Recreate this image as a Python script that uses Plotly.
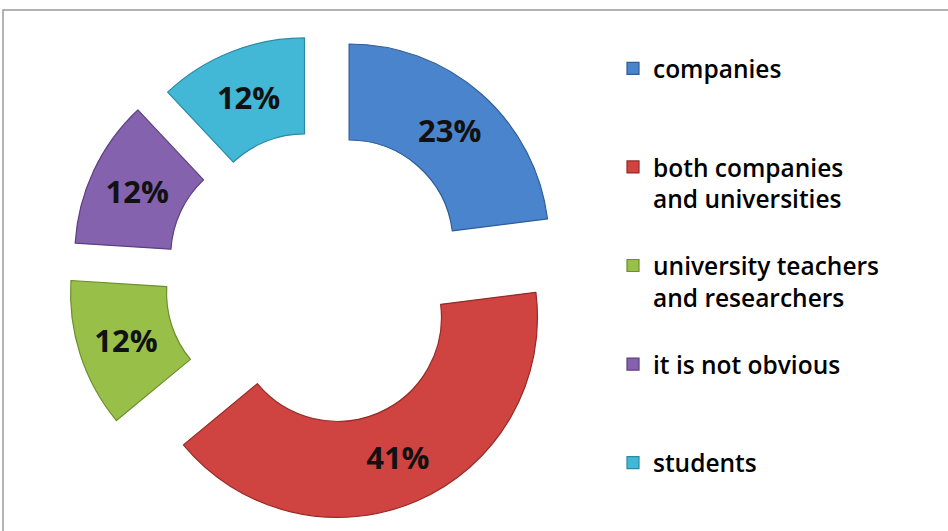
import plotly.graph_objects as go

# Survey answers and their shares (percent)
labels = [
    "companies",
    "both companies<br>and universities",
    "university teachers<br>and researchers",
    "it is not obvious",
    "students",
]
values = [23, 41, 12, 12, 12]
colors = ["#4A84CC", "#CF4340", "#98BF48", "#8462AE", "#42B8D6"]
edge_colors = ["#2E5E98", "#962A27", "#6C8E2C", "#5C3F82", "#2A8AA4"]
pulls = [0.22, 0.22, 0.26, 0.25, 0.21]

# Pad legend entries to three lines so that entries are evenly spaced
# (the last entry needs no padding below it)
def pad(label, lines=3):
    n = label.count("<br>") + 1
    return label + "<br> " * (lines - n)

legend_labels = [pad(l) for l in labels[:-1]] + [labels[-1]]

W, H = 948, 531
cx, cy = 320, 277          # donut centre in pixels
half = 252                 # half size of the square pie box

fig = go.Figure(
    go.Pie(
        labels=legend_labels,
        values=values,
        sort=False,
        direction="clockwise",
        rotation=0,
        hole=0.52,
        pull=pulls,
        marker=dict(colors=colors, line=dict(color=edge_colors, width=1.2)),
        texttemplate="<b>%{value}%</b>",
        textposition="inside",
        insidetextorientation="horizontal",
        textfont=dict(family="Open Sans", size=31, color="#111111"),
        domain=dict(
            x=[(cx - 300) / W, (cx + 300) / W],
            y=[1 - (cy + half) / H, 1 - (cy - half) / H],
        ),
        hoverinfo="label+percent",
    )
)

fig.update_layout(
    width=W,
    height=H,
    margin=dict(l=0, r=0, t=0, b=0),
    paper_bgcolor="white",
    plot_bgcolor="white",
    showlegend=True,
    legend=dict(
        x=613 / W,
        y=1 - 46 / H,
        xanchor="left",
        yanchor="top",
        valign="top",
        font=dict(family="Open Sans", size=24.5, color="#000000", weight=600),
        bgcolor="rgba(0,0,0,0)",
        traceorder="normal",
    ),
    shapes=[
        dict(
            type="rect",
            xref="paper",
            yref="paper",
            x0=3 / W,
            x1=1.02,
            y0=-0.02,
            y1=1 - 10 / H,
            line=dict(color="#9A9A9A", width=1.5),
            fillcolor="rgba(0,0,0,0)",
        )
    ],
)

fig.write_html("out.html")
